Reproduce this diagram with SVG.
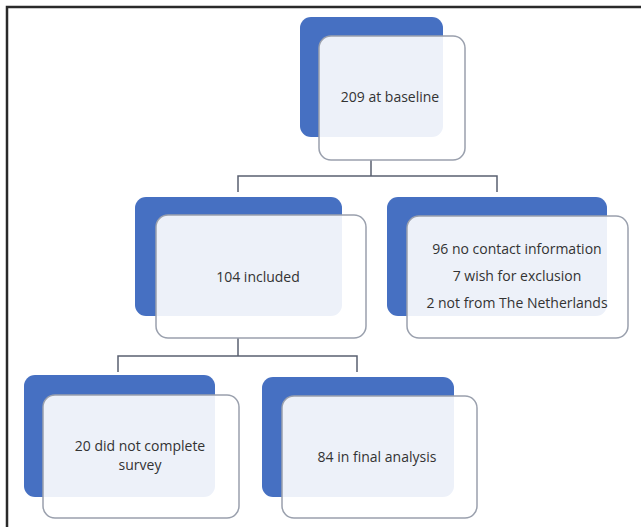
<svg xmlns="http://www.w3.org/2000/svg" width="641" height="527" viewBox="0 0 641 527">
<style>
.back{fill:#4670c2}
.card{fill:#ffffff;fill-opacity:0.9;stroke:#9aa0ad;stroke-width:1.5}
.t{font-family:"Open Sans","Noto Sans","DejaVu Sans",sans-serif;font-size:14px;fill:#333333;text-anchor:middle}
.c{fill:none;stroke:#5a6070;stroke-width:1.5}
</style>
<rect x="0" y="0" width="641" height="527" fill="#ffffff"/>
<path d="M7,527 V7 H641" fill="none" stroke="#2a2a2a" stroke-width="2.5"/>
<g id="connectors">
<path class="c" d="M371,160 V176 M238,192 V176 H497 V192"/>
<path class="c" d="M238,338 V356 M118,372 V356 H357 V372"/>
</g>
<g id="n1">
<rect class="back" x="300" y="17" width="143" height="120" rx="11"/>
<rect class="card" x="319" y="36" width="146" height="124" rx="12"/>
<text class="t" x="390" y="102">209 at baseline</text>
</g>
<g id="n2">
<rect class="back" x="135" y="197" width="207" height="119" rx="11"/>
<rect class="card" x="156" y="215" width="210" height="123" rx="12"/>
<text class="t" x="258" y="282">104 included</text>
</g>
<g id="n3">
<rect class="back" x="387" y="197" width="220" height="119" rx="11"/>
<rect class="card" x="407" y="216" width="221" height="122" rx="12"/>
<text class="t" x="517" y="254">96 no contact information</text>
<text class="t" x="517" y="281">7 wish for exclusion</text>
<text class="t" x="517" y="308">2 not from The Netherlands</text>
</g>
<g id="n4">
<rect class="back" x="24" y="375" width="191" height="122" rx="11"/>
<rect class="card" x="43" y="395" width="196" height="123" rx="12"/>
<text class="t" x="140" y="451">20 did not complete</text>
<text class="t" x="140" y="470">survey</text>
</g>
<g id="n5">
<rect class="back" x="262" y="377" width="192" height="120" rx="11"/>
<rect class="card" x="282" y="396" width="195" height="122" rx="12"/>
<text class="t" x="377" y="462">84 in final analysis</text>
</g>
</svg>
